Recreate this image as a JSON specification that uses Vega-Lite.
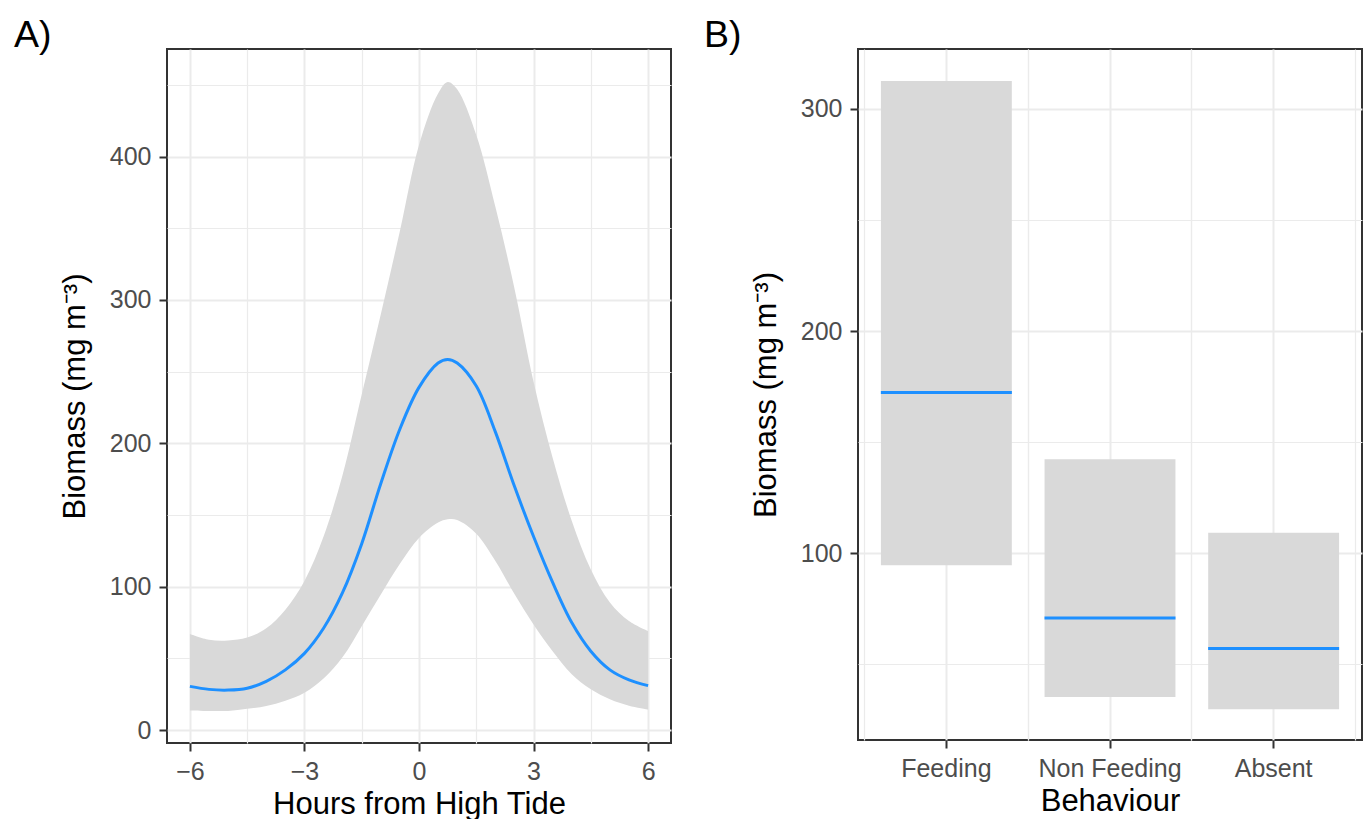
{
  "$schema": "https://vega.github.io/schema/vega-lite/v6.json",
  "background": "white",
  "padding": {"left": 13, "top": 15, "right": 0, "bottom": 0},
  "spacing": 187,
  "bounds": "flush",
  "config": {
    "font": "Liberation Sans",
    "view": {"stroke": "#333333", "strokeWidth": 2},
    "axis": {
      "domain": false,
      "gridColor": "#EBEBEB",
      "tickColor": "#333333",
      "tickSize": 8,
      "tickWidth": 2,
      "labelColor": "#4D4D4D",
      "labelFontSize": 25,
      "labelFont": "Liberation Sans",
      "labelPadding": 8,
      "labelFlush": false,
      "labelOverlap": false,
      "titleFont": "Liberation Sans",
      "titleFontSize": 31,
      "titleFontWeight": "normal",
      "titleColor": "#000000"
    }
  },
  "hconcat": [
    {
      "width": 504,
      "height": 694,
      "title": {"text": "A)", "anchor": "start", "frame": "group", "fontSize": 37.5, "fontWeight": "normal", "color": "#000000", "font": "Liberation Sans", "dx": -153, "offset": -35, "baseline": "alphabetic"},
      "data": {"values": [
        {"hours": -6, "lower": 13.7, "fit": 30.5, "upper": 67},
        {"hours": -5.5, "lower": 13.3, "fit": 28.4, "upper": 63},
        {"hours": -5, "lower": 13.4, "fit": 27.9, "upper": 62.5},
        {"hours": -4.5, "lower": 14.8, "fit": 29.2, "upper": 64.5},
        {"hours": -4, "lower": 16.8, "fit": 34, "upper": 71},
        {"hours": -3.5, "lower": 20.5, "fit": 42, "upper": 84},
        {"hours": -3, "lower": 26, "fit": 53.5, "upper": 104},
        {"hours": -2.5, "lower": 36, "fit": 71, "upper": 135},
        {"hours": -2, "lower": 51, "fit": 96, "upper": 178},
        {"hours": -1.5, "lower": 72.5, "fit": 130, "upper": 234},
        {"hours": -1, "lower": 94.6, "fit": 172, "upper": 290},
        {"hours": -0.5, "lower": 116, "fit": 210, "upper": 348},
        {"hours": 0, "lower": 134, "fit": 239, "upper": 408},
        {"hours": 0.5, "lower": 144.7, "fit": 256, "upper": 444},
        {"hours": 0.75, "lower": 147, "fit": 258.5, "upper": 452},
        {"hours": 1, "lower": 146.5, "fit": 256, "upper": 447},
        {"hours": 1.5, "lower": 137, "fit": 240, "upper": 415},
        {"hours": 2, "lower": 118, "fit": 208, "upper": 365},
        {"hours": 2.5, "lower": 95, "fit": 170, "upper": 308},
        {"hours": 3, "lower": 73.7, "fit": 135, "upper": 243},
        {"hours": 3.5, "lower": 55, "fit": 103, "upper": 190},
        {"hours": 4, "lower": 39, "fit": 75, "upper": 146},
        {"hours": 4.5, "lower": 28.4, "fit": 55, "upper": 112},
        {"hours": 5, "lower": 21.5, "fit": 42, "upper": 89},
        {"hours": 5.5, "lower": 17, "fit": 35, "upper": 76},
        {"hours": 6, "lower": 14.4, "fit": 31, "upper": 69}
      ]},
      "layer": [
        {
          "mark": {"type": "area", "color": "#D9D9D9", "interpolate": "catmull-rom"},
          "encoding": {
            "x": {"field": "hours", "type": "quantitative",
              "scale": {"domain": [-6.6, 6.6], "nice": false, "zero": false},
              "axis": {"title": "Hours from High Tide", "values": [-6, -4.5, -3, -1.5, 0, 1.5, 3, 4.5, 6],
                "labelExpr": "datum.value % 3 == 0 ? datum.label : ''",
                "gridWidth": {"condition": {"test": "datum.value % 3 != 0", "value": 1.2}, "value": 2},
                "tickOpacity": {"condition": {"test": "datum.value % 3 != 0", "value": 0}, "value": 1},
                "titlePadding": 5}},
            "y": {"field": "upper", "type": "quantitative",
              "scale": {"domain": [-9, 475], "nice": false, "zero": false},
              "axis": {"title": "Biomass (mg m⁻³)", "values": [0, 50, 100, 150, 200, 250, 300, 350, 400, 450],
                "labelExpr": "datum.value % 100 == 0 ? datum.label : ''",
                "gridWidth": {"condition": {"test": "datum.value % 100 != 0", "value": 1.2}, "value": 2},
                "tickOpacity": {"condition": {"test": "datum.value % 100 != 0", "value": 0}, "value": 1},
                "titlePadding": 18}},
            "y2": {"field": "lower"}
          }
        },
        {
          "mark": {"type": "line", "color": "#1E90FF", "strokeWidth": 3, "interpolate": "catmull-rom"},
          "encoding": {
            "x": {"field": "hours", "type": "quantitative"},
            "y": {"field": "fit", "type": "quantitative"}
          }
        }
      ]
    },
    {
      "width": 504,
      "height": 691,
      "title": {"text": "B)", "anchor": "start", "frame": "group", "fontSize": 37.5, "fontWeight": "normal", "color": "#000000", "font": "Liberation Sans", "dx": -154, "offset": -35, "baseline": "alphabetic"},
      "data": {"values": [
        {"behaviour": "Feeding", "lower": 94.7, "fit": 172.4, "upper": 312.6},
        {"behaviour": "Non Feeding", "lower": 35.3, "fit": 70.9, "upper": 142.4},
        {"behaviour": "Absent", "lower": 29.8, "fit": 57.2, "upper": 109.3}
      ]},
      "resolve": {"axis": {"x": "independent"}},
      "layer": [
        {
          "mark": {"type": "bar", "color": "#D9D9D9"},
          "encoding": {
            "x": {"field": "behaviour", "type": "nominal", "sort": null,
              "scale": {"paddingInner": 0.2, "paddingOuter": 0.14},
              "axis": {"title": "Behaviour", "bandPosition": 0.5, "labelAngle": 0, "grid": true, "gridWidth": 2, "titlePadding": 5}},
            "y": {"field": "upper", "type": "quantitative",
              "scale": {"domain": [16, 327], "nice": false, "zero": false},
              "axis": {"title": "Biomass (mg m⁻³)", "values": [50, 100, 150, 200, 250, 300],
                "labelExpr": "datum.value % 100 == 0 ? datum.label : ''",
                "gridWidth": {"condition": {"test": "datum.value % 100 != 0", "value": 1.2}, "value": 2},
                "tickOpacity": {"condition": {"test": "datum.value % 100 != 0", "value": 0}, "value": 1},
                "titlePadding": 18}},
            "y2": {"field": "lower"}
          }
        },
        {
          "mark": {"type": "tick", "color": "#1E90FF", "size": 131, "thickness": 3, "opacity": 1},
          "encoding": {
            "x": {"field": "behaviour", "type": "nominal", "sort": null,
              "axis": {"title": null, "bandPosition": -0.125, "labels": false, "ticks": false, "grid": true, "gridWidth": 1.2}},
            "y": {"field": "fit", "type": "quantitative"}
          }
        },
        {
          "mark": {"type": "tick", "color": "#1E90FF", "size": 131, "thickness": 3, "opacity": 0},
          "encoding": {
            "x": {"field": "behaviour", "type": "nominal", "sort": null,
              "axis": {"title": null, "bandPosition": 1.125, "labels": false, "ticks": false, "grid": true, "gridWidth": 1.2}},
            "y": {"field": "fit", "type": "quantitative"}
          }
        }
      ]
    }
  ]
}
